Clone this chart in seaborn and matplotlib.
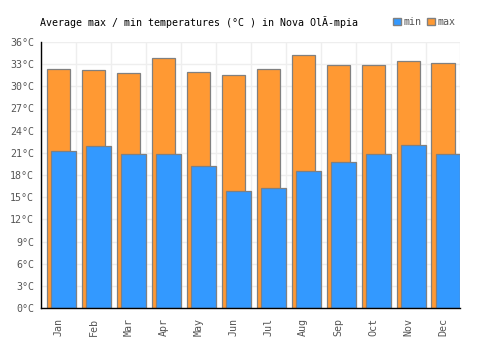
import matplotlib
matplotlib.use('Agg')
import matplotlib.pyplot as plt
from matplotlib.patches import Patch
import seaborn as sns
import pandas as pd

# monthly averages
MONTHS = ['Jan', 'Feb', 'Mar', 'Apr', 'May', 'Jun', 'Jul', 'Aug', 'Sep', 'Oct', 'Nov', 'Dec']
T_MAX = [32.4, 32.2, 31.8, 33.8, 31.9, 31.6, 32.4, 34.3, 32.9, 32.9, 33.4, 33.1]
T_MIN = [21.2, 21.9, 20.9, 20.8, 19.2, 15.8, 16.3, 18.6, 19.7, 20.9, 22.1, 20.8]
Y_TICKS = list(range(0, 37, 3))

BLUE = '#3399ff'
ORANGE = '#ff9933'
EDGE = '#808080'

df = pd.DataFrame({'month': MONTHS, 'max': T_MAX, 'min': T_MIN})

sns.set_style('white')
plt.rcParams['font.family'] = ['DejaVu Sans Mono']

fig = plt.figure(figsize=(5, 3.5), dpi=100)
ax = fig.add_axes([0.082, 0.12, 0.839, 0.76])

# max bars behind, centred on the month
sns.barplot(data=df, x='month', y='max', color=ORANGE, saturation=1,
            width=0.66, edgecolor=EDGE, linewidth=0.9, ax=ax, zorder=2)
n_max = len(ax.patches)
# min bars in front, shifted right a bit
sns.barplot(data=df, x='month', y='min', color=BLUE, saturation=1,
            width=0.70, edgecolor=EDGE, linewidth=0.9, ax=ax, zorder=3)
for p in ax.patches[n_max:]:
    p.set_x(p.get_x() + 0.15)

ax.set_xlim(-0.5, len(MONTHS) - 0.5)
ax.set_ylim(0, 36)
ax.set_yticks(Y_TICKS)
ax.set_yticklabels([f'{t}°C' for t in Y_TICKS])
ax.set_xlabel('')
ax.set_ylabel('')

# vertical grid at month boundaries, horizontal at ticks
for x in [i - 0.5 for i in range(len(MONTHS) + 1)]:
    ax.axvline(x, color='#eeeeee', lw=1, zorder=0)
for y in Y_TICKS:
    ax.axhline(y, color='#eeeeee', lw=1, zorder=0)

ax.tick_params(axis='both', length=0, labelsize=7.2, labelcolor='#555555', pad=5)
ax.tick_params(axis='x', rotation=90, pad=7)
for s in ['top', 'right']:
    ax.spines[s].set_visible(False)
ax.spines['left'].set_color('black')
ax.spines['bottom'].set_color('black')
ax.spines['left'].set_linewidth(1)
ax.spines['bottom'].set_linewidth(1)
ax.spines['left'].set_zorder(5)
ax.spines['bottom'].set_zorder(5)

fig.text(0.08, 0.926, 'Average max / min temperatures (°C ) in Nova OlÃ-mpia',
         fontsize=7.2, color='black', ha='left', va='baseline')

handles = [Patch(facecolor=BLUE, edgecolor=EDGE, label='min'),
           Patch(facecolor=ORANGE, edgecolor=EDGE, label='max')]
fig.legend(handles=handles, loc='center left', bbox_to_anchor=(0.776, 0.937),
           ncol=2, frameon=False, fontsize=7.2, handlelength=0.75, handleheight=0.75,
           handletextpad=0.25, columnspacing=0.6, borderpad=0, labelcolor='#555555')

fig.savefig('out.png', dpi=100)
